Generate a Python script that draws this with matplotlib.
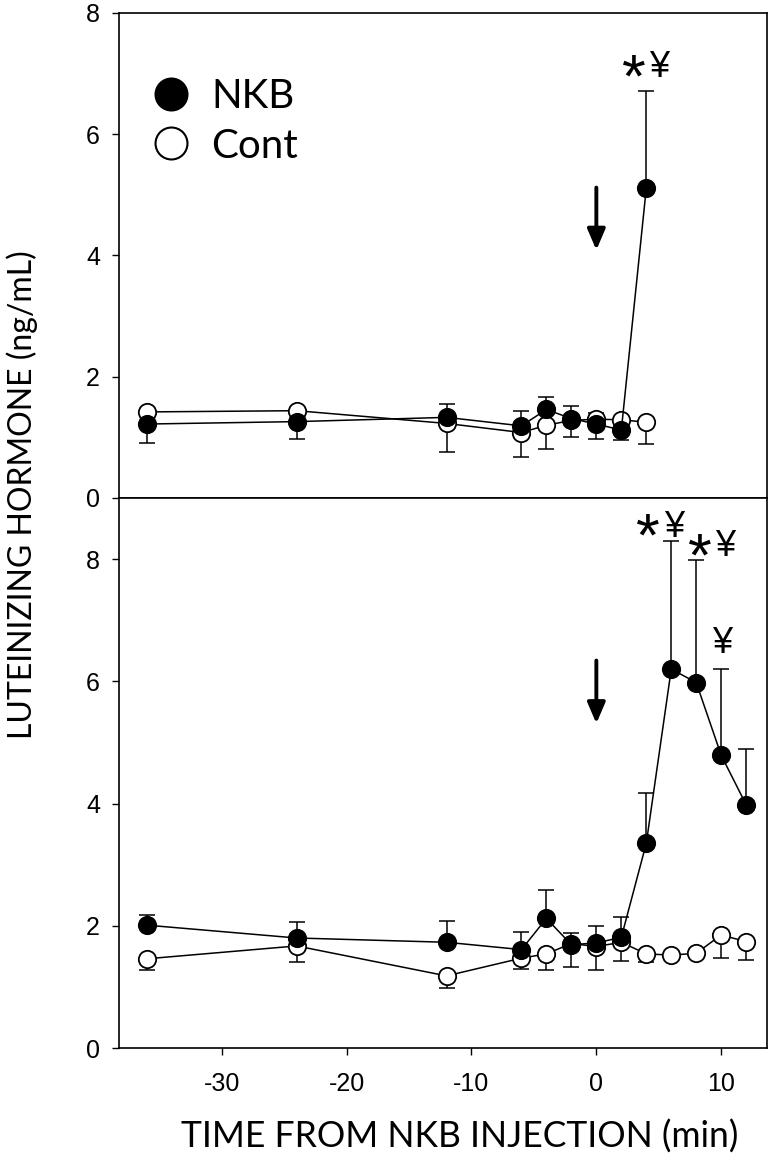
import matplotlib
matplotlib.use("Agg")
import matplotlib.pyplot as plt
from matplotlib.lines import Line2D
import numpy as np

plt.rcParams["axes.unicode_minus"] = False
plt.rcParams["font.family"] = ["Liberation Sans", "DejaVu Sans"]

# ---------------- data ----------------
time_top = [-36, -24, -12, -6, -4, -2, 0, 2, 4]
nkb_top = [1.22, 1.26, 1.33, 1.19, 1.46, 1.31, 1.22, 1.12, 5.11]
nkb_top_err = [0.32, 0.28, 0.22, 0.24, 0.21, 0.21, 0.24, 0.17, 1.61]
nkb_top_dir = [-1, -1, 1, 1, 1, 1, -1, -1, 1]
cont_top = [1.42, 1.44, 1.23, 1.08, 1.20, 1.28, 1.30, 1.29, 1.25]
cont_top_err = [0.05, 0.05, 0.47, 0.40, 0.39, 0.28, 0.10, 0.05, 0.36]
cont_top_dir = [1, 1, -1, -1, -1, -1, 1, 1, -1]

time_bot = [-36, -24, -12, -6, -4, -2, 0, 2, 4, 6, 8, 10, 12]
nkb_bot = [2.01, 1.80, 1.73, 1.61, 2.12, 1.69, 1.72, 1.81, 3.35, 6.20, 5.98, 4.79, 3.98]
nkb_bot_err = [0.17, 0.27, 0.35, 0.29, 0.46, 0.20, 0.27, 0.33, 0.83, 2.09, 2.00, 1.41, 0.91]
nkb_bot_dir = [1] * 13
cont_bot = [1.46, 1.67, 1.18, 1.47, 1.54, 1.71, 1.66, 1.73, 1.54, 1.52, 1.55, 1.85, 1.74]
cont_bot_err = [0.18, 0.27, 0.19, 0.18, 0.27, 0.39, 0.38, 0.30, 0.13, 0.0, 0.0, 0.37, 0.30]
cont_bot_dir = [-1] * 13

x_ticks = [-30, -20, -10, 0, 10]
y_ticks = [0, 2, 4, 6, 8]
legend_labels = ["NKB", "Cont"]
x_label = "TIME FROM NKB INJECTION (min)"
y_label = "LUTEINIZING HORMONE (ng/mL)"

# annotations: (text, x, y)
top_marks = [("*", 2.97, 7.1), ("¥", 5.04, 7.1)]
bot_marks = [("*", 4.1, 8.52), ("¥", 6.25, 8.52),
             ("*", 8.26, 8.2), ("¥", 10.3, 8.2),
             ("¥", 10.1, 6.62)]
top_arrow = (0, 5.12, 4.09)
bot_arrow = (0, 6.34, 5.31)

# ---------------- figure ----------------
W, H = 773, 1161
fig = plt.figure(figsize=(W / 100, H / 100), dpi=100)

left = 119.4 / W
right = 767.4 / W
y_top_top = 1 - 13 / H
y_mid = 1 - 498 / H
y_bot = 1 - 1048 / H

ax1 = fig.add_axes([left, y_mid, right - left, y_top_top - y_mid])
ax2 = fig.add_axes([left, y_bot, right - left, y_mid - y_bot])

tick_font = ["Liberation Sans", "DejaVu Sans"]
label_font = ["Lato", "DejaVu Sans"]

ms = 12.5
mew = 1.3
lw = 1.1


def draw(ax, t, nkb, nkb_err, nkb_dir, cont, cont_err, cont_dir):
    t = np.asarray(t, float)
    for vals, err, d, fc, z in [(cont, cont_err, cont_dir, "white", 3),
                                (nkb, nkb_err, nkb_dir, "black", 4)]:
        vals = np.asarray(vals, float)
        err = np.asarray(err, float)
        d = np.asarray(d)
        lower = np.where(d < 0, err, 0.0)
        upper = np.where(d > 0, err, 0.0)
        ax.errorbar(t, vals, yerr=[lower, upper], fmt="none", ecolor="black",
                    elinewidth=1.1, capsize=6, capthick=1.1, zorder=z - 1)
        ax.plot(t, vals, "-", color="black", lw=lw, marker="o", ms=ms,
                mfc=fc, mec="black", mew=mew, zorder=z)


draw(ax1, time_top, nkb_top, nkb_top_err, nkb_top_dir, cont_top, cont_top_err, cont_top_dir)
draw(ax2, time_bot, nkb_bot, nkb_bot_err, nkb_bot_dir, cont_bot, cont_bot_err, cont_bot_dir)

for ax, ymax in [(ax1, 8), (ax2, 9)]:
    ax.set_xlim(-38.2, 13.7)
    ax.set_ylim(0, ymax)
    ax.set_xticks(x_ticks)
    ax.set_yticks(y_ticks)
    for s in ax.spines.values():
        s.set_linewidth(1.2)
    ax.tick_params(direction="out", length=5, width=1.0, labelsize=18)
    ax.tick_params(axis="y", pad=9)
    ax.tick_params(axis="x", pad=12)

ax1.tick_params(axis="x", labelbottom=False)

# arrows
for ax, (ax_x, y0, y1) in [(ax1, top_arrow), (ax2, bot_arrow)]:
    ax.annotate("", xy=(ax_x, y1), xytext=(ax_x, y0),
                arrowprops=dict(arrowstyle="-|>,head_length=0.7,head_width=0.3",
                                lw=2.8, color="black", shrinkA=0, shrinkB=0,
                                mutation_scale=18),
                zorder=6)

# significance marks
for ax, marks in [(ax1, top_marks), (ax2, bot_marks)]:
    for txt, mx, my in marks:
        if txt == "*":
            ax.text(mx, my, txt, fontsize=44, ha="center", va="center",
                    family=tick_font, zorder=7,
                    transform=ax.transData + matplotlib.transforms.ScaledTranslation(0, -13 / 100, fig.dpi_scale_trans))
        else:
            ax.text(mx, my, txt, fontsize=26, ha="center", va="center",
                    family=tick_font, zorder=7)

# legend
handles = [Line2D([], [], ls="none", marker="o", ms=23, mfc="black", mec="black", mew=1.5),
           Line2D([], [], ls="none", marker="o", ms=23, mfc="white", mec="black", mew=1.5)]
leg = ax1.legend(handles, legend_labels, loc="upper left",
                 bbox_to_anchor=(0.045, 0.865), frameon=False,
                 prop={"family": label_font, "size": 29},
                 handlelength=1.1, handletextpad=0.45, labelspacing=0.3,
                 borderpad=0, borderaxespad=0)

fig.text(22 / W, 1 - 495 / H, y_label, rotation=90, ha="center", va="center",
         fontsize=23, family=label_font)
fig.text(460 / W, 1 - 1137 / H, x_label, ha="center", va="center",
         fontsize=25.6, family=label_font)

fig.savefig("out.png", dpi=100)
